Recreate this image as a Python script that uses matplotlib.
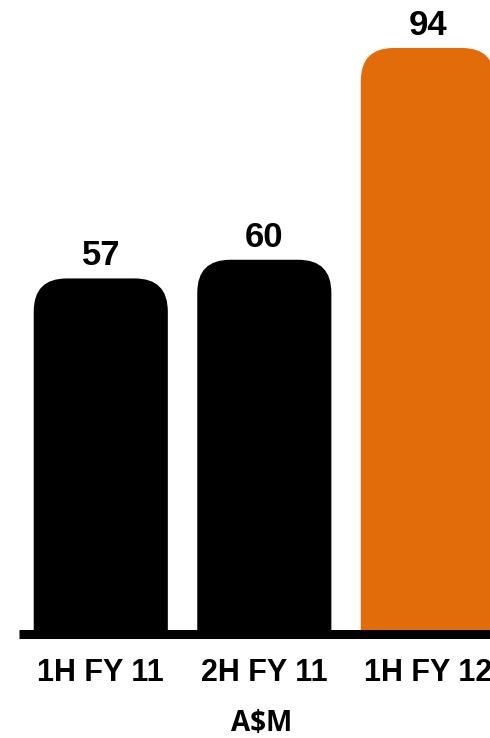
import matplotlib
matplotlib.use("Agg")
import matplotlib.pyplot as plt
from matplotlib.patches import FancyBboxPatch

periods = ["1H FY 11", "2H FY 11", "1H FY 12"]
values = [57, 60, 94]
colors = ["#000000", "#000000", "#E36C0A"]
unit_label = "A$M"

plt.rcParams['font.family'] = ['Liberation Sans', 'DejaVu Sans']

fig = plt.figure(figsize=(4.9, 7.38), dpi=100)
ax = fig.add_axes([19 / 490, 104.5 / 738, 471 / 490, 633.5 / 738])

bars = ax.bar(range(len(values)), values, width=0.82, color=colors)
ax.set_xlim(-0.5, 2.38)
ax.set_ylim(0, 101.7)

# swap the plain bars for ones with rounded tops
fig.canvas.draw()
px_x = ax.transData.transform((1, 0))[0] - ax.transData.transform((0, 0))[0]
px_y = ax.transData.transform((0, 1))[1] - ax.transData.transform((0, 0))[1]
radius_px = 33 * fig.dpi / 100
for b in bars:
    rounded = FancyBboxPatch((b.get_x(), -20), b.get_width(), b.get_height() + 20,
                             boxstyle="round,pad=0,rounding_size=%f" % (radius_px / px_x),
                             mutation_aspect=px_x / px_y,
                             facecolor=b.get_facecolor(), edgecolor="none", zorder=1)
    ax.add_patch(rounded)
    b.remove()

for i, v in enumerate(values):
    ax.annotate(str(v), (i, v), xytext=(0, 9.4), textcoords="offset points",
                ha="center", va="baseline", fontsize=25, fontweight="bold",
                annotation_clip=False)

ax.set_xticks(range(len(periods)))
ax.set_xticklabels(periods, fontsize=22, fontweight="bold")
ax.tick_params(axis="x", length=0, pad=17.6)
ax.set_yticks([])
for side in ["left", "right", "top"]:
    ax.spines[side].set_visible(False)
ax.spines["bottom"].set_linewidth(6.5)
ax.spines["bottom"].set_color("black")
ax.spines["bottom"].set_capstyle("butt")

fig.text(262 / 490, 7 / 738, unit_label, ha="center", va="baseline",
         fontsize=20, fontweight="bold", family=["Open Sans", "DejaVu Sans"])

fig.savefig("out.png", dpi=100)
